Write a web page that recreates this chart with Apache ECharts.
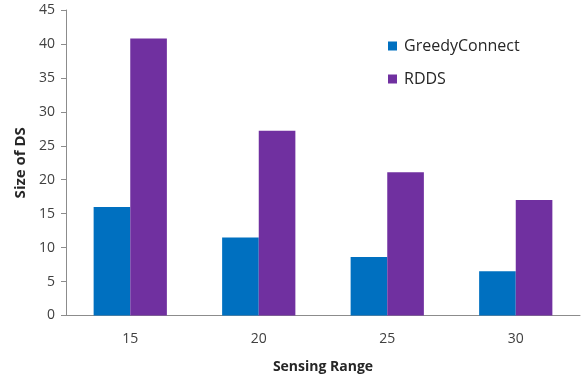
<!DOCTYPE html>
<html>
<head>
<meta charset="utf-8">
<script src="https://cdn.jsdelivr.net/npm/echarts@6/dist/echarts.min.js"></script>
<style>
  html, body { margin: 0; padding: 0; background: #fff; }
  #chart { width: 583px; height: 375px; }
</style>
</head>
<body>
<div id="chart"></div>
<script>
// Sensing range categories and dominating-set sizes per algorithm
const categories = ['15', '20', '25', '30'];
const greedyConnect = [16.0, 11.5, 8.6, 6.5];
const rdds = [40.8, 27.2, 21.1, 17.0];
const yTicks = { min: 0, max: 45, interval: 5 };

const font = '"Open Sans", "Liberation Sans", sans-serif';
const chart = echarts.init(document.getElementById('chart'));
chart.setOption({
  animation: false,
  backgroundColor: '#ffffff',
  grid: {
    left: 66, right: 3, top: 10, bottom: 59.5,
    containLabel: false,
    outerBoundsMode: 'none'
  },
  legend: {
    orient: 'vertical',
    left: 383,
    top: 33,
    itemWidth: 9,
    itemHeight: 9,
    itemGap: 17,
    icon: 'rect',
    textStyle: { fontFamily: font, fontSize: 16, color: '#262626', padding: [0, 0, 0, 2] },
    data: ['GreedyConnect', 'RDDS']
  },
  xAxis: {
    type: 'category',
    data: categories,
    name: 'Sensing Range',
    nameLocation: 'middle',
    nameGap: 45,
    nameTextStyle: { fontFamily: font, fontSize: 14, fontWeight: 'bold', color: '#262626' },
    axisLine: { lineStyle: { color: '#8c8c8c', width: 1 } },
    axisTick: { show: false },
    axisLabel: { fontFamily: font, fontSize: 14, color: '#404040', margin: 17 }
  },
  yAxis: {
    type: 'value',
    min: yTicks.min,
    max: yTicks.max,
    interval: yTicks.interval,
    name: 'Size of DS',
    nameLocation: 'middle',
    nameGap: 36,
    nameTextStyle: { fontFamily: font, fontSize: 15, fontWeight: 'bold', color: '#262626' },
    axisLine: { show: true, lineStyle: { color: '#8c8c8c', width: 1 } },
    axisTick: { show: true, length: 5, lineStyle: { color: '#8c8c8c' } },
    axisLabel: { fontFamily: font, fontSize: 14, color: '#404040', margin: 11 },
    splitLine: { show: false }
  },
  series: [
    {
      name: 'GreedyConnect',
      type: 'bar',
      data: greedyConnect,
      barGap: '0%',
      barCategoryGap: '43%',
      itemStyle: { color: '#0070c0' }
    },
    {
      name: 'RDDS',
      type: 'bar',
      data: rdds,
      barGap: '0%',
      barCategoryGap: '43%',
      itemStyle: { color: '#7030a0' }
    }
  ]
});
</script>
</body>
</html>
